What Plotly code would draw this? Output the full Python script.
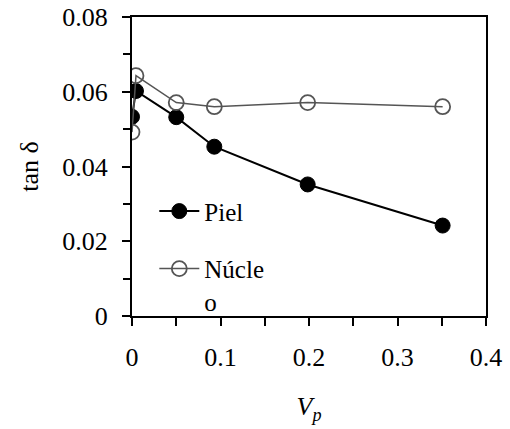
import plotly.graph_objects as go

vp_piel = [0.0, 0.0045, 0.05, 0.093, 0.1985, 0.351]
tan_piel = [0.0533, 0.0602, 0.0532, 0.0453, 0.0352, 0.0242]
vp_nucleo = [0.0, 0.0045, 0.05, 0.093, 0.1985, 0.351]
tan_nucleo = [0.0492, 0.0643, 0.0571, 0.0560, 0.0571, 0.0560]

x_tickvals = [0, 0.1, 0.2, 0.3, 0.4]
x_ticktext = ["0", "0.1", "0.2", "0.3", "0.4"]
y_tickvals = [0, 0.02, 0.04, 0.06, 0.08]
y_ticktext = ["0", "0.02", "0.04", "0.06", "0.08"]

FONT = "Liberation Serif, Times New Roman, serif"
GRAY = "#555555"

fig = go.Figure()
fig.add_trace(go.Scatter(
    x=vp_piel, y=tan_piel, mode="lines+markers", name="Piel", legendgroup="a",
    line=dict(color="black", width=2),
    marker=dict(symbol="circle", size=15, color="black", line=dict(color="black", width=1)),
))
fig.add_trace(go.Scatter(
    x=vp_nucleo, y=tan_nucleo, mode="lines+markers", name="Núcle<br>o", legendgroup="b",
    line=dict(color=GRAY, width=1.5),
    marker=dict(symbol="circle-open", size=15, color=GRAY, line=dict(color=GRAY, width=1.8)),
))

fig.update_layout(
    width=510, height=429,
    margin=dict(l=132, r=24, t=17, b=113, autoexpand=False),
    paper_bgcolor="white", plot_bgcolor="white",
    font=dict(family=FONT, size=26, color="black"),
    showlegend=True,
    legend=dict(x=0.063, y=0.427, xanchor="left", yanchor="top", valign="top",
                bgcolor="rgba(0,0,0,0)", font=dict(family=FONT, size=25),
                tracegroupgap=22, itemwidth=40),
    xaxis=dict(range=[0, 0.4], tickmode="array", tickvals=x_tickvals, ticktext=x_ticktext,
               ticks="outside", ticklen=8, tickwidth=1.5, tickcolor="black",
               tickfont=dict(family=FONT, size=26), ticklabeloverflow="allow",
               minor=dict(dtick=0.05, ticks="outside", ticklen=8, tickwidth=1.5, tickcolor="black"),
               showline=True, linewidth=2, linecolor="black", mirror=True,
               showgrid=False, zeroline=False, ticklabelstandoff=9, automargin=False,
               title=dict(text="<i>V</i><sub><i>p</i></sub>", font=dict(family=FONT, size=26), standoff=26)),
    yaxis=dict(range=[0, 0.08], tickmode="array", tickvals=y_tickvals, ticktext=y_ticktext,
               ticks="outside", ticklen=8, tickwidth=1.5, tickcolor="black",
               tickfont=dict(family=FONT, size=26), ticklabeloverflow="allow",
               minor=dict(dtick=0.01, ticks="outside", ticklen=7, tickwidth=1.5, tickcolor="black"),
               showline=True, linewidth=2, linecolor="black", mirror=True,
               showgrid=False, zeroline=False, ticklabelstandoff=9, automargin=False,
               title=dict(text="tan δ", font=dict(family=FONT, size=26), standoff=16)),
)

fig.write_html("out.html", config={"displayModeBar": False},
               post_script="document.body.style.margin='0';")
